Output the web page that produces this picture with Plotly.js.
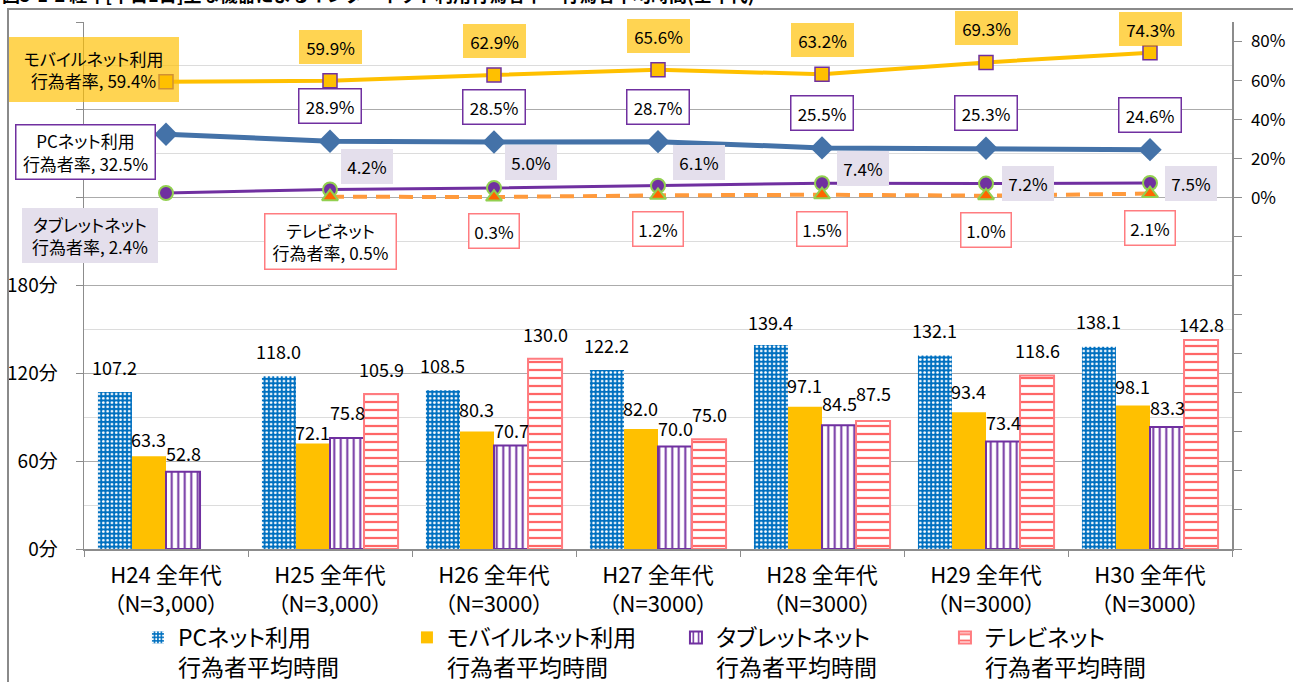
<!DOCTYPE html>
<html><head><meta charset="utf-8">
<script src="https://cdn.plot.ly/plotly-3.0.1.min.js"></script>
<style>
html,body{margin:0;padding:0;background:#fff;overflow:hidden;width:1293px;height:682px;}
#chart{position:absolute;left:0;top:0;width:1293px;height:682px;}
#frame{position:absolute;left:7px;top:8px;width:1400px;height:800px;border:2px solid #8a8a8a;pointer-events:none;}
#title{position:absolute;left:2px;top:-19px;font:bold 18px 'Noto Sans CJK JP';white-space:nowrap;color:#000;}
svg text{font-feature-settings:"palt" 1;}
</style></head>
<body>
<div id="chart"></div>
<div id="frame"></div>
<div id="title">図5-1-2 経年[平日1日]主な機器によるインターネット利用行為者率・行為者平均時間(全年代)</div>
<script>
// ---- data ----
const categories = ['H24 全年代<br>（N=3,000）','H25 全年代<br>（N=3,000）','H26 全年代<br>（N=3000）','H27 全年代<br>（N=3000）','H28 全年代<br>（N=3000）','H29 全年代<br>（N=3000）','H30 全年代<br>（N=3000）'];
const timeNames = ['PCネット利用<br>行為者平均時間','モバイルネット利用<br>行為者平均時間','タブレットネット<br>行為者平均時間','テレビネット<br>行為者平均時間'];
const pcTime     = [107.2, 118.0, 108.5, 122.2, 139.4, 132.1, 138.1];
const mobileTime = [63.3, 72.1, 80.3, 82.0, 97.1, 93.4, 98.1];
const tabletTime = [52.8, 75.8, 70.7, 70.0, 84.5, 73.4, 83.3];
const tvTime     = [null, 105.9, 130.0, 75.0, 87.5, 118.6, 142.8];
const rateNames  = ['モバイルネット利用','PCネット利用','タブレットネット','テレビネット'];
const mobileRate = [59.4, 59.9, 62.9, 65.6, 63.2, 69.3, 74.3];
const pcRate     = [32.5, 28.9, 28.5, 28.7, 25.5, 25.3, 24.6];
const tabletRate = [2.4, 4.2, 5.0, 6.1, 7.4, 7.2, 7.5];
const tvRate     = [null, 0.5, 0.3, 1.2, 1.5, 1.0, 2.1];
const leftTickVals = [0, 60, 120, 180, 240, 300, 360];
const leftTickText = ['0分', '60分', '120分', '180分', '', '', ''];
const rightTickVals = [-180,-160,-140,-120,-100,-80,-60,-40,-20,0,20,40,60,80];
const rightTickText = ['','','','','','','','','','0%','20%','40%','60%','80%'];

// ---- layout constants ----
const W = 1293, H = 682, ML = 84, MR = 61, MT = 22, MB = 133;
const FONT = 'Noto Sans CJK JP';
const plotW = W - ML - MR;
const catW = plotW / categories.length;
const BARGAP = 0.17;
const barW = catW * (1 - BARGAP) / 4;
const barShift = k => (k - 1.5) * barW;

// label lifts (px above bar top, to label centre)
const barLift = [
  [25, 25, 25, 25, 23, 26, 26],
  [17, 11, 22, 21, 22, 21, 19],
  [19, 26, 16, 19, 22, 20, 20],
  [0, 25, 25, 25, 28, 25, 16]
];

const barSeries = [pcTime, mobileTime, tabletTime, tvTime];
const barStyles = [
  {color:'#0070C0', pattern:{shape:'.', fgcolor:'#FFFFFF', bgcolor:'#0070C0', size:4.3, solidity:0.3}, line:{width:0}},
  {color:'#FFC000', line:{width:0}},
  {color:'#FFFFFF', pattern:{shape:'|', fgcolor:'#7030A0', bgcolor:'#FFFFFF', size:6.5, solidity:0.3}, line:{color:'#7030A0', width:2}},
  {color:'#FFFFFF', pattern:{shape:'-', fgcolor:'#FF6666', bgcolor:'#FFFFFF', size:8, solidity:0.28}, line:{color:'#FF7C80', width:2}}
];

const traces = [];
barSeries.forEach((s, k) => {
  traces.push({type:'bar', name:timeNames[k], x:categories, y:s, marker:barStyles[k],
    xaxis:'x', yaxis:'y', hoverinfo:'skip'});
});

const lineSeries = [
  {y:mobileRate, line:{color:'#FFC000', width:4}, marker:{symbol:'square', size:14, color:'#FFC000', line:{color:'#7030A0', width:1.5}}},
  {y:pcRate, line:{color:'#4472A8', width:5}, marker:{symbol:'diamond', size:18, color:'#4472A8', line:{width:0}}},
  {y:tabletRate, line:{color:'#7030A0', width:3}, marker:{symbol:'circle', size:14, color:'#7030A0', line:{color:'#92D050', width:2}}},
  {y:tvRate, line:{color:'#FF9A3C', width:4, dash:'14px,9px'}, marker:{symbol:'triangle-up', size:14, color:'#FF6600', line:{color:'#92D050', width:2}}}
];
lineSeries.forEach(s => {
  traces.push({type:'scatter', mode:'lines+markers', x:categories, y:s.y, line:s.line, marker:s.marker,
    xaxis:'x', yaxis:'y2', showlegend:false, hoverinfo:'skip'});
});

const annotations = [];
// bar value labels
barSeries.forEach((s, k) => {
  s.forEach((v, i) => {
    if (v === null) return;
    annotations.push({xref:'x', yref:'y', x:i, y:v, text:v.toFixed(1), showarrow:false,
      xanchor:'center', yanchor:'middle', xshift:barShift(k), yshift:barLift[k][i],
      font:{family:FONT, size:18, color:'#000'}});
  });
});

// rate labels
const rateSeries = [mobileRate, pcRate, tabletRate, tvRate];
const rateStyle = [
  {bg:'rgba(255,192,0,0.68)', border:'rgba(0,0,0,0)', bw:0, w:57, h:28, bigW:165, bigH:59},
  {bg:'#FFFFFF', border:'#7030A0', bw:1.5, w:55, h:27, bigW:132, bigH:47},
  {bg:'#E4DFEC', border:'rgba(0,0,0,0)', bw:0, w:46, h:29, bigW:130, bigH:49},
  {bg:'#FFFFFF', border:'#FF7C80', bw:1.5, w:43, h:27, bigW:124, bigH:48}
];
const rateShiftX = [
  [-72.5, 0, 0, 0, 0, 0, 0],
  [-80.5, 0, 0, 0, 0, 0, 0],
  [-76.5, 37, 37, 41, 41, 42, 41],
  [0, 0, 0, 0, 0, 0, 0]
];
const rateShiftY = [
  [12.5, 34, 34, 34, 34, 34, 24],
  [-17.4, 35, 35, 35, 35, 35, 35],
  [-43, 23, 25, 23, 15, 0, 0],
  [0, -44.5, -34, -34, -34, -34, -34]
];
rateSeries.forEach((s, k) => {
  let first = true;
  s.forEach((v, i) => {
    if (v === null) return;
    const st = rateStyle[k];
    const txt = first ? rateNames[k] + '<br>行為者率, ' + v.toFixed(1) + '%' : v.toFixed(1) + '%';
    annotations.push({xref:'x', yref:'y2', x:i, y:v, text:txt, showarrow:false,
      xanchor:'center', yanchor:'middle', align:'center',
      xshift:rateShiftX[k][i], yshift:rateShiftY[k][i],
      width: first ? st.bigW : st.w, height: first ? st.bigH : st.h,
      bgcolor:st.bg, bordercolor:st.border, borderwidth:st.bw, borderpad:3,
      font:{family:FONT, size:17, color:'#000'}});
    first = false;
  });
});

const layout = {
  width:W, height:H,
  margin:{l:ML, r:MR, t:MT, b:MB, pad:0, autoexpand:false},
  paper_bgcolor:'rgba(0,0,0,0)', plot_bgcolor:'#FFFFFF',
  font:{family:FONT, color:'#000'},
  barmode:'group', bargap:BARGAP, bargroupgap:0,
  showlegend:true,
  legend:{orientation:'h', x:0.047, xanchor:'left', y:-0.127, yanchor:'top', valign:'top',
    entrywidth:224, entrywidthmode:'pixels', font:{family:FONT, size:23, color:'#000'},
    bgcolor:'rgba(0,0,0,0)', tracegroupgap:0},
  xaxis:{type:'category', range:[-0.5, 6.5], showline:true, linecolor:'#8C8C8C', linewidth:1.5,
    ticks:'outside', tickson:'boundaries', ticklen:6, tickcolor:'#8C8C8C', showgrid:false,
    ticklabelstandoff:6, automargin:false,
    tickfont:{family:FONT, size:22, color:'#000'}, fixedrange:true},
  yaxis:{range:[0, 360], tickvals:leftTickVals, ticktext:leftTickText, ticks:'outside', ticklen:7,
    tickcolor:'#8C8C8C', showline:true, linecolor:'#8C8C8C', linewidth:1.5, gridcolor:'#ABABAB', gridwidth:1,
    zeroline:false, ticklabelstandoff:14, automargin:false,
    minor:{tickvals:[30,90,150,210,270,330], showgrid:true, gridcolor:'#DCDCDC', gridwidth:1},
    tickfont:{family:FONT, size:19, color:'#000'}},
  yaxis2:{range:[-180, 90], overlaying:'y', side:'right', tickvals:rightTickVals, ticktext:rightTickText,
    ticks:'outside', ticklen:8, tickcolor:'#8C8C8C', showline:true, linecolor:'#8C8C8C', linewidth:1.5,
    showgrid:false, zeroline:false, ticklabelstandoff:6, automargin:false,
    tickfont:{family:FONT, size:17, color:'#000'}},
  annotations:annotations
};

Plotly.newPlot('chart', traces, layout, {displayModeBar:false, staticPlot:true});
</script>
</body></html>
